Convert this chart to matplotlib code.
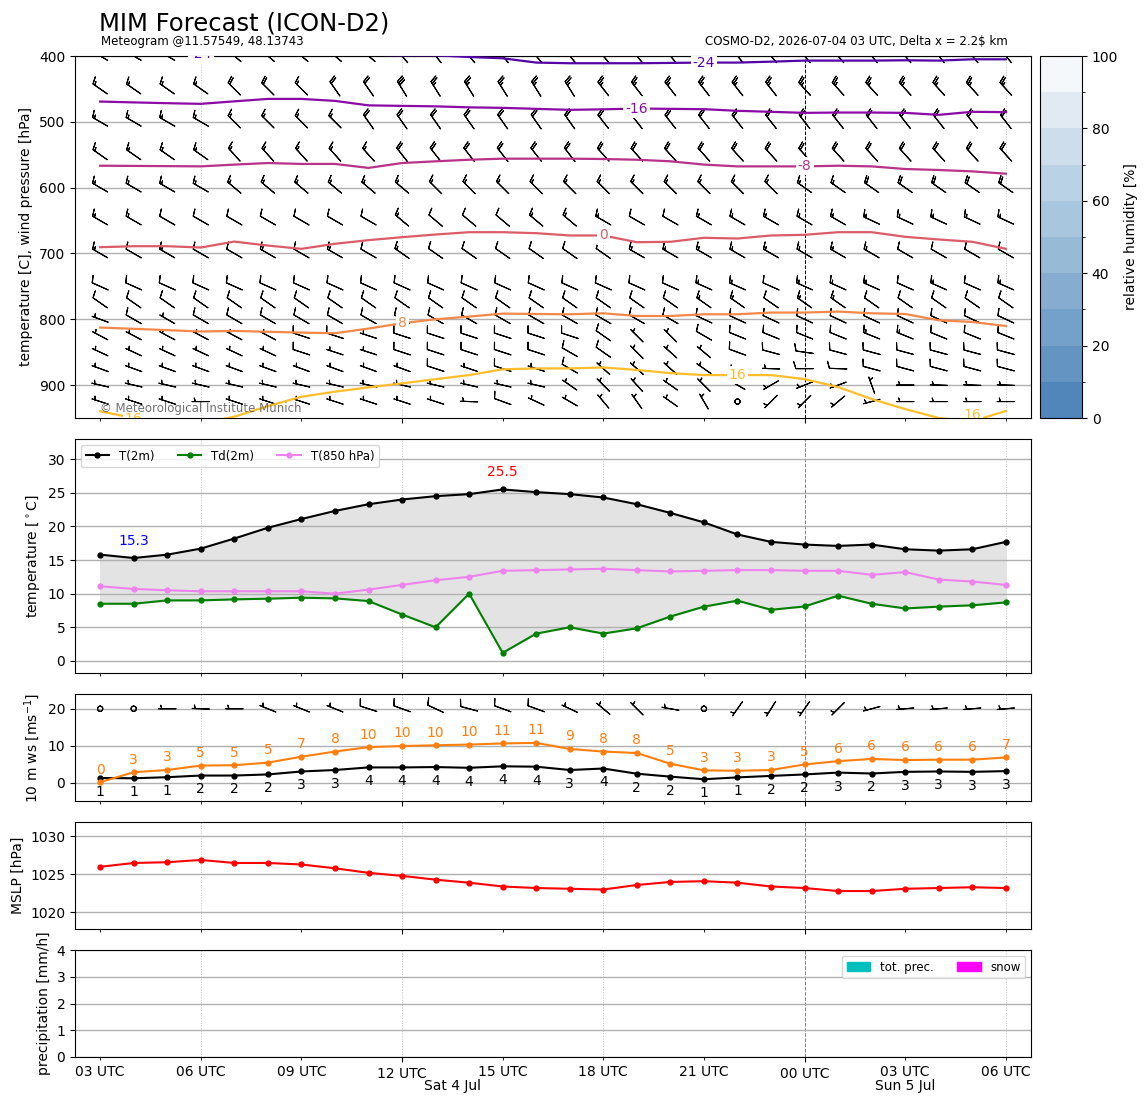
import numpy as np
import pandas as pd
import matplotlib
matplotlib.use("Agg")
import matplotlib.pyplot as plt
import matplotlib.dates as mdates
import matplotlib.transforms as mtransforms
from matplotlib.colors import ListedColormap, BoundaryNorm, Normalize
from matplotlib.cm import ScalarMappable
from matplotlib.patches import Patch

# ---- data -------------------------------------------------------------
times = pd.date_range("2026-07-04 03:00", periods=28, freq="h")

t2m = [15.8, 15.3, 15.8, 16.7, 18.2, 19.8, 21.1, 22.3, 23.3, 24.0, 24.5, 24.8, 25.5, 25.1,
       24.8, 24.3, 23.3, 22.0, 20.6, 18.8, 17.7, 17.3, 17.1, 17.3, 16.6, 16.4, 16.6, 17.7]
td2m = [8.5, 8.5, 9.0, 9.0, 9.15, 9.25, 9.4, 9.3, 8.9, 6.9, 5.0, 10.0, 1.2, 4.06,
        5.0, 4.06, 4.85, 6.6, 8.07, 8.96, 7.6, 8.1, 9.7, 8.5, 7.8, 8.07, 8.27, 8.7]
t850 = [11.1, 10.7, 10.5, 10.35, 10.35, 10.35, 10.35, 10.0, 10.6, 11.3, 12.0, 12.5, 13.4, 13.5,
        13.6, 13.7, 13.5, 13.3, 13.4, 13.5, 13.5, 13.4, 13.4, 12.8, 13.2, 12.1, 11.8, 11.3]

ws10 = [1.24, 1.16, 1.45, 1.9, 1.9, 2.2, 3.0, 3.4, 4.1, 4.1, 4.2, 4.0, 4.4, 4.3,
        3.4, 3.8, 2.4, 1.6, 0.9, 1.4, 1.8, 2.2, 2.7, 2.45, 2.9, 3.0, 2.9, 3.1]
gust10 = [0.1, 2.8, 3.4, 4.6, 4.7, 5.4, 7.0, 8.4, 9.6, 9.9, 10.1, 10.3, 10.6, 10.75,
          9.1, 8.4, 8.0, 5.1, 3.3, 3.2, 3.4, 4.9, 5.8, 6.4, 6.1, 6.2, 6.2, 6.8]
wd10 = [270, 270, 270, 272, 270, 292, 292, 292, 288, 290, 295, 285, 290, 290,
        295, 310, 315, 280, 270, 215, 212, 215, 225, 255, 265, 265, 265, 265]

mslp = [1026.0, 1026.5, 1026.6, 1026.9, 1026.5, 1026.5, 1026.3, 1025.8, 1025.2, 1024.8,
        1024.3, 1023.9, 1023.4, 1023.2, 1023.1, 1023.0, 1023.6, 1024.0, 1024.1, 1023.9,
        1023.4, 1023.2, 1022.8, 1022.8, 1023.1, 1023.2, 1023.3, 1023.2]

tot_prec = [0.0] * 28
snow = [0.0] * 28

# pressure of the isotherms [hPa]
iso_levels = [-24, -16, -8, 0, 8, 16]
iso_m24 = [396, 396, 396, 396, 396, 396, 396, 397, 398, 399, 399, 401.5, 403.5, 410,
           411, 411, 411, 410.5, 410, 410, 408.6, 407, 407, 407, 406.5, 407, 405, 405]
iso_m16 = [469.2, 470.5, 471.7, 472.7, 468.9, 465.2, 465.2, 468.2, 475, 475.8, 476.5, 478, 478.8, 480.3,
           481.8, 481, 479.8, 480.3, 480.8, 483.3, 484.8, 486.4, 485.9, 485.9, 486.4, 489.4, 484.8, 485.3]
iso_m8 = [566.7, 567, 567.3, 567.7, 565, 562.6, 564, 564, 570, 562.6, 560, 557.6, 556, 556,
          556, 556.5, 557.6, 560, 565, 567.7, 567.7, 567.7, 566.7, 567.7, 571.7, 573.2, 575.3, 578.8]
iso_0 = [690.5, 689, 689, 691, 682, 688, 693, 685.3, 679.8, 675.3, 671.2, 667.7, 667.7, 669.2,
         672.7, 672.7, 682.9, 682.3, 676.2, 677.3, 672.7, 671.7, 667.7, 667.7, 674.7, 678.8, 682.3, 692.9]
iso_8 = [812.6, 814.5, 816.5, 818.6, 817.7, 819, 820.2, 821.2, 814.1, 806, 800, 795.9, 791.4, 792,
         792.4, 790.9, 795, 795, 792.4, 792.4, 789.8, 789.8, 788.3, 790.9, 792, 801.5, 804.1, 810.2]
iso_16 = [939.8, 950, 960, 958, 948, 932, 917.7, 910, 903.5, 897.4, 891, 884.8, 876, 874.7,
          874.7, 873.2, 877, 881.8, 884.8, 884.8, 884.8, 890.9, 903, 921.2, 936.4, 950, 955, 939.4]

# wind profile: levels [hPa], speed [kt], direction [deg]
plev = [400, 450, 500, 550, 600, 650, 700, 750, 775, 800, 825, 850, 875, 900, 925]
wspd = [
    [25] * 28,
    [15, 15, 15, 15, 20, 20, 15, 20, 20, 30, 25, 25, 25, 25, 25, 25, 25, 25, 25, 25, 25, 25, 25, 25, 25, 25, 25, 25],
    [15, 15, 15, 15, 15, 15, 15, 15, 20, 20, 20, 20, 20, 20, 20, 20, 20, 20, 20, 20, 20, 20, 20, 20, 20, 20, 20, 20],
    [15, 15, 15, 15, 15, 15, 15, 15, 15, 20, 20, 20, 20, 20, 20, 20, 20, 20, 20, 20, 20, 20, 20, 20, 20, 20, 20, 20],
    [15, 15, 15, 15, 15, 15, 15, 15, 15, 15, 15, 15, 15, 15, 15, 15, 15, 15, 15, 15, 15, 15, 15, 20, 20, 20, 20, 20],
    [15, 15, 10, 10, 10, 10, 10, 10, 10, 15, 10, 10, 10, 15, 15, 15, 10, 10, 15, 15, 15, 15, 15, 15, 15, 15, 15, 15],
    [15, 10, 15, 10, 10, 15, 10, 15, 10, 15, 10, 10, 10, 10, 10, 10, 15, 15, 15, 15, 15, 15, 15, 15, 10, 10, 10, 10],
    [10, 10, 10, 10, 10, 10, 10, 10, 10, 10, 10, 10, 10, 10, 10, 10, 10, 10, 15, 15, 10, 15, 15, 15, 10, 15, 10, 15],
    [10, 10, 10, 10, 10, 10, 10, 10, 10, 10, 10, 10, 10, 10, 10, 10, 10, 10, 15, 15, 10, 15, 15, 10, 10, 10, 10, 10],
    [5, 10, 5, 10, 10, 10, 10, 10, 10, 10, 10, 10, 10, 10, 10, 10, 10, 10, 10, 10, 10, 10, 10, 10, 10, 10, 10, 10],
    [5, 5, 5, 5, 5, 5, 10, 10, 5, 10, 10, 10, 10, 10, 10, 10, 5, 5, 10, 10, 10, 10, 10, 15, 15, 10, 10, 10],
    [5, 5, 5, 5, 5, 5, 10, 5, 5, 10, 10, 10, 10, 10, 10, 10, 5, 5, 5, 10, 10, 10, 10, 10, 10, 10, 10, 10],
    [5, 5, 5, 5, 5, 5, 5, 5, 5, 5, 10, 5, 10, 5, 10, 5, 5, 5, 5, 5, 5, 10, 10, 10, 10, 10, 10, 10],
    [5] * 28,
    [5, 5, 5, 5, 5, 5, 5, 5, 5, 5, 5, 5, 10, 5, 5, 5, 5, 5, 5, 0, 5, 5, 5, 5, 5, 5, 5, 5],
]
wdir = [
    [300] * 4 + [310] * 5 + [320] * 19,
    [305] * 4 + [315] * 3 + [325] * 2 + [328] * 6 + [322] * 6 + [318] * 7,
    [300] * 4 + [315] * 4 + [325] * 7 + [322] * 13,
    [305] * 4 + [318] * 5 + [322] * 6 + [318] * 13,
    [300] * 4 + [310] * 6 + [315] * 11 + [305] * 7,
    [300] * 9 + [310] * 6 + [300] * 8 + [295] * 5,
    [300] * 9 + [305] * 7 + [300] * 12,
    [294] * 28,
    [305] * 28,
    [290] + [300] * 17 + [295] * 10,
    [298] * 6 + [288] * 9 + [305, 315, 315, 300] + [292] * 9,
    [295] * 6 + [288] * 8 + [300, 305, 315, 312, 310] + [290, 285, 278] + [285] * 6,
    [290] * 10 + [288] * 4 + [300, 312, 312, 312, 305] + [272, 272, 270, 272] + [285] * 5,
    [283] * 14 + [305, 315, 318, 305, 315] + [300, 240, 248, 250, 340, 270, 272, 272, 272],
    [288, 288, 288, 270, 288, 288, 288, 288, 288, 288, 288, 272, 290, 295,
     300, 320, 325, 305, 330, 0, 225, 225, 230, 255, 270, 270, 270, 270],
]

rh_colors = ["#5086ba", "#6394c2", "#74a1c9", "#86add0", "#97bad7",
             "#a8c6de", "#bad2e5", "#cdddeb", "#e1e9f2", "#f4f8fb"]

# ---- figure -----------------------------------------------------------
W, H = 1148, 1105
fig = plt.figure(figsize=(W / 100, H / 100), dpi=100)


def box(l, t, r, b):
    return [l / W, 1 - b / H, (r - l) / W, (b - t) / H]


ax_p = fig.add_axes(box(75, 56, 1031, 418))
ax_t = fig.add_axes(box(75, 439, 1031, 673))
ax_w = fig.add_axes(box(75, 694, 1031, 801))
ax_m = fig.add_axes(box(75, 822, 1031, 929))
ax_r = fig.add_axes(box(75, 950, 1031, 1057))
cax = fig.add_axes(box(1040, 56, 1082, 418))
axes = [ax_p, ax_t, ax_w, ax_m, ax_r]

x = mdates.date2num(times.to_pydatetime())
pad = 0.75 / 24

for ax in axes:
    ax.set_xlim(x[0] - pad, x[-1] + pad)
    ax.xaxis.set_major_locator(mdates.HourLocator(byhour=[0, 12]))
    ax.xaxis.set_minor_locator(mdates.HourLocator(byhour=[3, 6, 9, 15, 18, 21]))
    ax.xaxis.set_major_formatter(mdates.DateFormatter("%H UTC"))
    ax.xaxis.set_minor_formatter(mdates.DateFormatter("%H UTC"))
    ax.grid(axis="y", color="#b0b0b0", lw=1.0)
    for t, xv in zip(times, x):
        if t.hour == 0:
            ax.axvline(xv, color="k" if ax is ax_p else "0.5", ls="--", lw=0.7, zorder=1)
        elif t.hour % 6 == 0:
            ax.axvline(xv, color="0.75", ls=":", lw=0.7, zorder=1)
    if ax is not ax_r:
        ax.tick_params(which="both", labelbottom=False)

# ---- pressure / wind profile panel ------------------------------------
plasma = plt.cm.plasma
tnorm = Normalize(-32, 24)
iso_lines = [iso_m24, iso_m16, iso_m8, iso_0, iso_8, iso_16]
for lev, iso in zip(iso_levels, iso_lines):
    ax_p.plot(x, iso, color=plasma(tnorm(lev)), lw=1.6, zorder=3)

label_idx = {-24: 18, -16: 16, -8: 21, 0: 15, 8: 9, 16: 19}
for lev, iso in zip(iso_levels, iso_lines):
    i = label_idx[lev]
    ax_p.text(x[i], iso[i], f"{lev}", color=plasma(tnorm(lev)), fontsize=10,
              ha="center", va="center", zorder=4, clip_on=True,
              bbox=dict(boxstyle="square,pad=0.15", fc="white", ec="none"))
for i, p, lev in [(3, 397, -24), (1, 951, 16), (26, 946, 16)]:
    ax_p.text(x[i], p, f"{lev}", color=plasma(tnorm(lev)), fontsize=10,
              ha="center", va="center", zorder=4, clip_on=True,
              bbox=dict(boxstyle="square,pad=0.15", fc="white", ec="none"))

X, Y = np.meshgrid(x, plev)
spd = np.array(wspd, dtype=float)
rad = np.deg2rad(np.array(wdir, dtype=float))
U = -spd * np.sin(rad)
V = -spd * np.cos(rad)
ax_p.barbs(X, Y, U, V, length=5, pivot="middle", lw=0.8, zorder=2)

ax_p.set_ylim(950, 400)
ax_p.set_yticks([400, 500, 600, 700, 800, 900])
ax_p.set_ylabel("temperature [C], wind pressure [hPa]")
ax_p.text(0.026, 0.008, "\u00a9 Meteorological Institute Munich", transform=ax_p.transAxes,
          fontsize=8.5, color="0.35", alpha=0.85, ha="left", va="bottom", zorder=5)

cmap = ListedColormap(rh_colors)
bnorm = BoundaryNorm(np.arange(0, 101, 10), cmap.N)
cb = fig.colorbar(ScalarMappable(norm=bnorm, cmap=cmap), cax=cax, ticks=[0, 20, 40, 60, 80, 100])
cb.set_label("relative humidity [%]")

# ---- 2 m temperature panel --------------------------------------------
ax_t.fill_between(x, t2m, td2m, color="0.89", zorder=1)
ax_t.plot(x, t2m, color="k", marker=".", ms=7, lw=1.5, label="T(2m)", zorder=3)
ax_t.plot(x, td2m, color="green", marker=".", ms=7, lw=1.5, label="Td(2m)", zorder=3)
ax_t.plot(x, t850, color="violet", marker=".", ms=7, lw=1.5, label="T(850 hPa)", zorder=2)
imin = int(np.argmin(t2m))
imax = int(np.argmax(t2m))
ax_t.text(x[imin], t2m[imin] + 1.5, f"{t2m[imin]:.1f}", color="blue", ha="center", va="bottom", fontsize=10)
ax_t.text(x[imax], t2m[imax] + 1.5, f"{t2m[imax]:.1f}", color="red", ha="center", va="bottom", fontsize=10)
ax_t.set_ylim(-1.8, 33)
ax_t.set_yticks([0, 5, 10, 15, 20, 25, 30])
ax_t.set_ylabel("temperature [$^\\circ$C]")
ax_t.legend(loc="upper left", ncol=3, fontsize=8.5)

# ---- 10 m wind panel --------------------------------------------------
ax_w.plot(x, ws10, color="k", marker=".", ms=7, lw=1.5, zorder=3)
ax_w.plot(x, gust10, color="tab:orange", marker=".", ms=7, lw=1.5, zorder=3)
for xv, w, g in zip(x, ws10, gust10):
    ax_w.annotate(f"{w:.0f}", (xv, w), xytext=(0, -5), textcoords="offset points",
                  ha="center", va="top", fontsize=10, color="k")
    ax_w.annotate(f"{g:.0f}", (xv, g), xytext=(0, 4), textcoords="offset points",
                  ha="center", va="bottom", fontsize=10, color="tab:orange")
kt = np.array(ws10) * 1.94384
r10 = np.deg2rad(wd10)
ax_w.barbs(x, np.full(len(x), 20.0), -kt * np.sin(r10), -kt * np.cos(r10),
           length=5, pivot="middle", lw=0.8, zorder=2)
ax_w.set_ylim(-5, 24)
ax_w.set_yticks([0, 10, 20])
ax_w.set_ylabel("10 m ws [ms$^{-1}$]")

# ---- MSLP panel -------------------------------------------------------
ax_m.plot(x, mslp, color="red", marker=".", ms=7, lw=1.5, zorder=3)
ax_m.set_ylim(min(mslp) - 5, max(mslp) + 5)
ax_m.set_yticks([1020, 1025, 1030])
ax_m.set_ylabel("MSLP [hPa]")

# ---- precipitation panel ----------------------------------------------
ax_r.bar(x, tot_prec, width=0.8 / 24, color="c")
ax_r.bar(x, snow, width=0.8 / 24, color="magenta")
ax_r.set_ylim(0, 4)
ax_r.set_yticks([0, 1, 2, 3, 4])
ax_r.set_ylabel("precipitation [mm/h]")
ax_r.legend(handles=[Patch(color="c", label="tot. prec."), Patch(color="magenta", label="snow")],
            loc="upper right", ncol=2, fontsize=8.5)

# day labels centred on the covered part of each day
trans = mtransforms.blended_transform_factory(ax_r.transData, ax_r.transAxes)
for day in pd.unique(times.normalize()):
    day = pd.Timestamp(day)
    start = max(day, times[0])
    end = min(day + pd.Timedelta(days=1), times[-1])
    mid = start + (end - start) / 2
    ax_r.text(mdates.date2num(mid.to_pydatetime()), -0.27, f"{day:%a} {day.day} {day:%b}",
              transform=trans, ha="center", va="center", fontsize=10)

# ---- titles -----------------------------------------------------------
fig.text(99 / W, 1 - 30 / H, "MIM Forecast (ICON-D2)", fontsize=17.5, ha="left", va="baseline")
fig.text(101 / W, 1 - 45 / H, "Meteogram @11.57549, 48.13743", fontsize=8.5, ha="left", va="baseline")
fig.text(1008 / W, 1 - 45 / H, "COSMO-D2, 2026-07-04 03 UTC, Delta x = 2.2$ km", fontsize=8.5,
         ha="right", va="baseline")

fig.savefig("out.png", dpi=100)
